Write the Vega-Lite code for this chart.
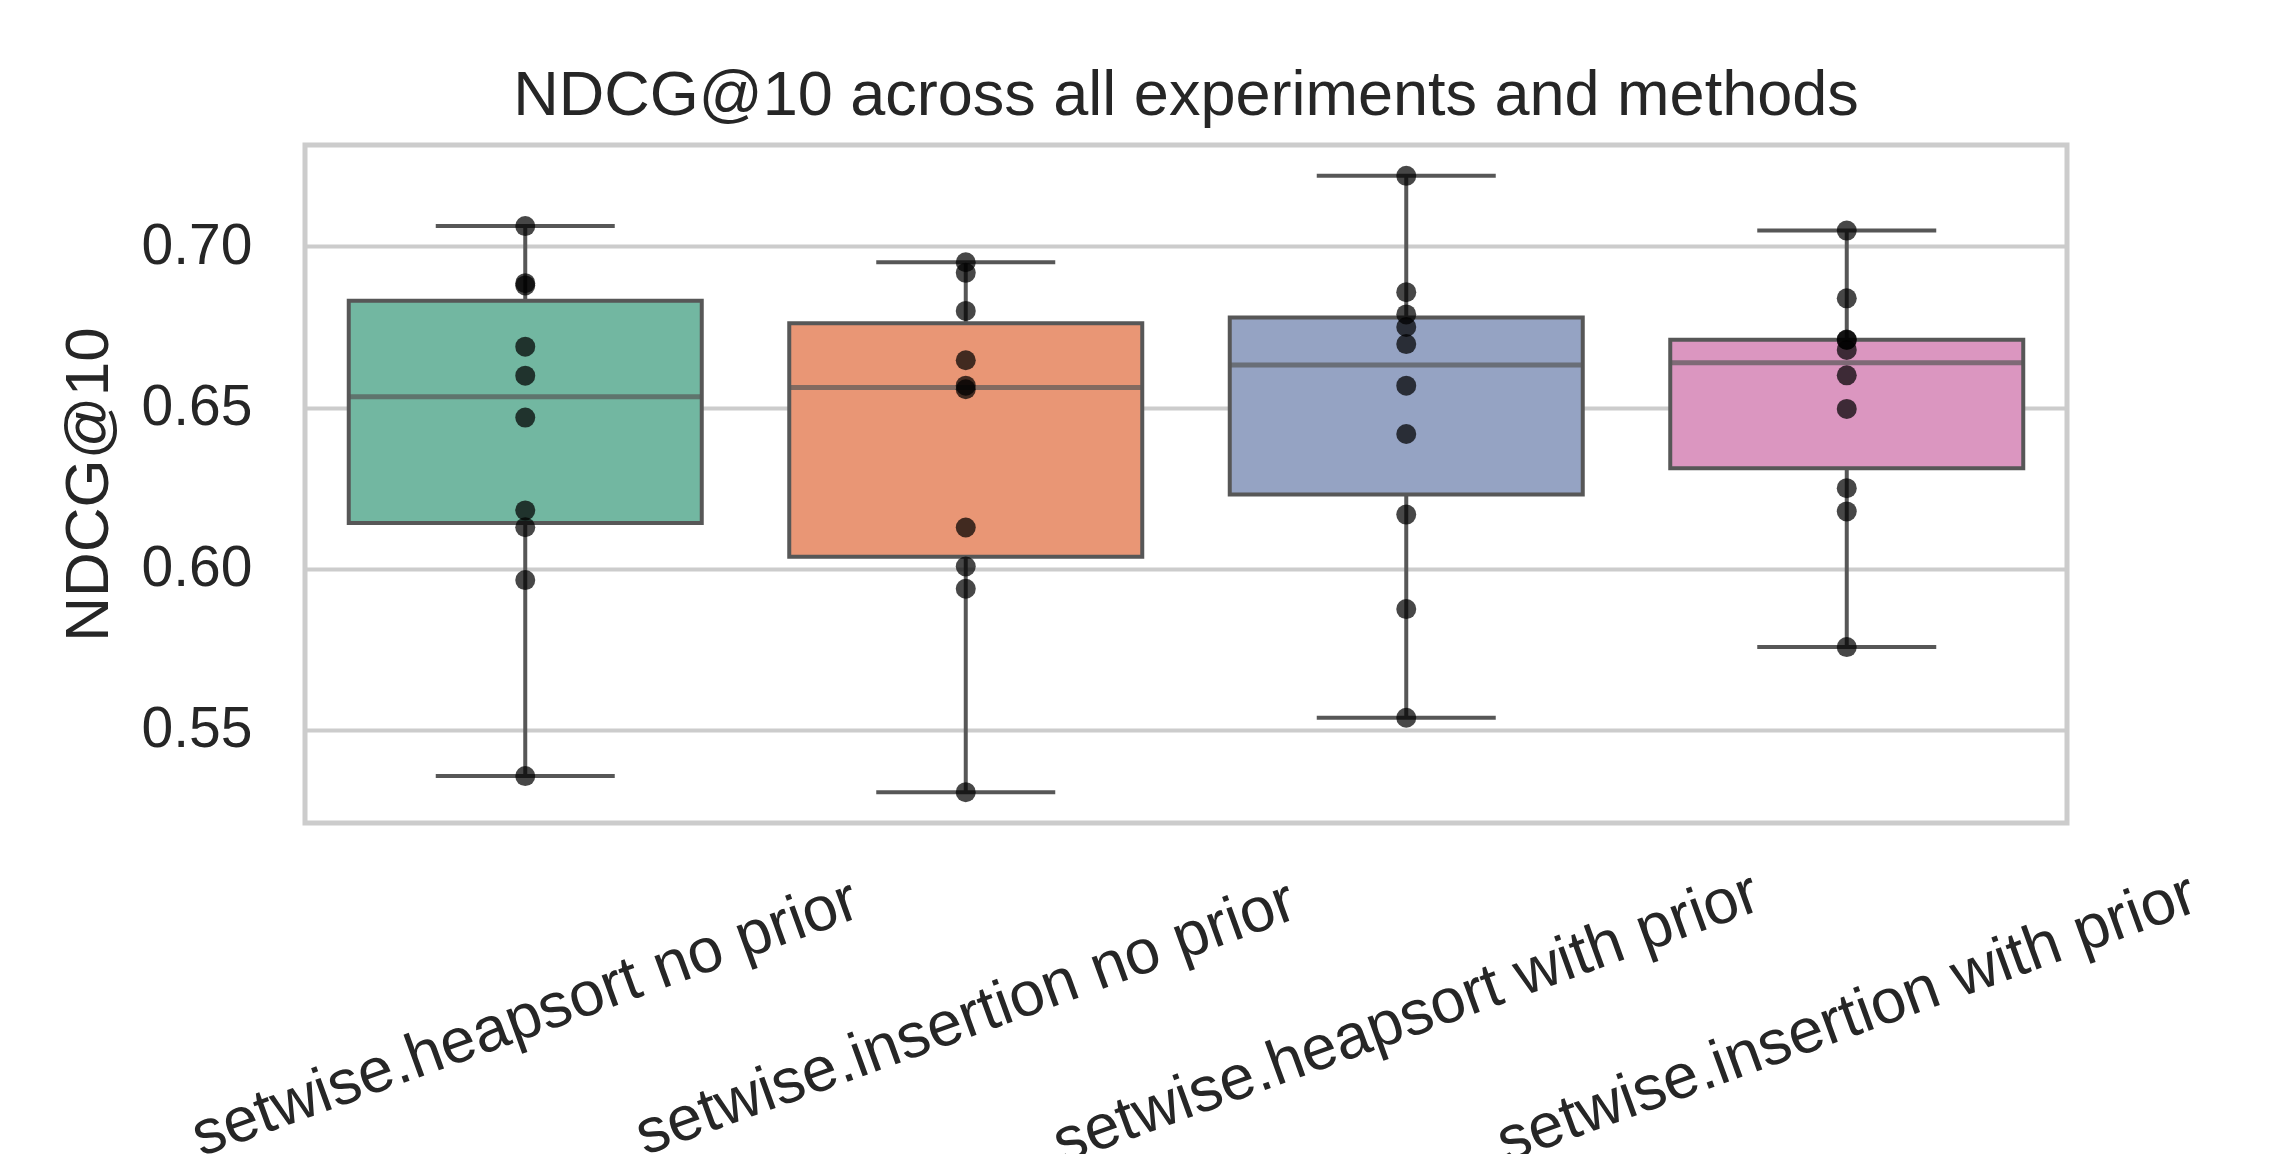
{
  "$schema": "https://vega.github.io/schema/vega-lite/v6.json",
  "width": 1762,
  "height": 678,
  "autosize": {"type": "none"},
  "padding": {"left": 305, "top": 145, "right": 205, "bottom": 331},
  "background": "white",
  "title": {"text": "NDCG@10 across all experiments and methods", "fontSize": 63, "font": "Liberation Sans", "fontWeight": "normal", "color": "#262626", "baseline": "alphabetic", "offset": -33, "anchor": "middle"},
  "data": {"values": [
    {"method": "setwise.heapsort no prior", "ndcg": 0.7063},
    {"method": "setwise.heapsort no prior", "ndcg": 0.6886},
    {"method": "setwise.heapsort no prior", "ndcg": 0.6879},
    {"method": "setwise.heapsort no prior", "ndcg": 0.6689},
    {"method": "setwise.heapsort no prior", "ndcg": 0.6599},
    {"method": "setwise.heapsort no prior", "ndcg": 0.6469},
    {"method": "setwise.heapsort no prior", "ndcg": 0.6181},
    {"method": "setwise.heapsort no prior", "ndcg": 0.6129},
    {"method": "setwise.heapsort no prior", "ndcg": 0.5965},
    {"method": "setwise.heapsort no prior", "ndcg": 0.5357},
    {"method": "setwise.insertion no prior", "ndcg": 0.6951},
    {"method": "setwise.insertion no prior", "ndcg": 0.6918},
    {"method": "setwise.insertion no prior", "ndcg": 0.6800},
    {"method": "setwise.insertion no prior", "ndcg": 0.6647},
    {"method": "setwise.insertion no prior", "ndcg": 0.6568},
    {"method": "setwise.insertion no prior", "ndcg": 0.6557},
    {"method": "setwise.insertion no prior", "ndcg": 0.6128},
    {"method": "setwise.insertion no prior", "ndcg": 0.6007},
    {"method": "setwise.insertion no prior", "ndcg": 0.5938},
    {"method": "setwise.insertion no prior", "ndcg": 0.5307},
    {"method": "setwise.heapsort with prior", "ndcg": 0.7219},
    {"method": "setwise.heapsort with prior", "ndcg": 0.6858},
    {"method": "setwise.heapsort with prior", "ndcg": 0.6789},
    {"method": "setwise.heapsort with prior", "ndcg": 0.6750},
    {"method": "setwise.heapsort with prior", "ndcg": 0.6697},
    {"method": "setwise.heapsort with prior", "ndcg": 0.6568},
    {"method": "setwise.heapsort with prior", "ndcg": 0.6418},
    {"method": "setwise.heapsort with prior", "ndcg": 0.6168},
    {"method": "setwise.heapsort with prior", "ndcg": 0.5875},
    {"method": "setwise.heapsort with prior", "ndcg": 0.5538},
    {"method": "setwise.insertion with prior", "ndcg": 0.7049},
    {"method": "setwise.insertion with prior", "ndcg": 0.6839},
    {"method": "setwise.insertion with prior", "ndcg": 0.6711},
    {"method": "setwise.insertion with prior", "ndcg": 0.6710},
    {"method": "setwise.insertion with prior", "ndcg": 0.6679},
    {"method": "setwise.insertion with prior", "ndcg": 0.6600},
    {"method": "setwise.insertion with prior", "ndcg": 0.6496},
    {"method": "setwise.insertion with prior", "ndcg": 0.6250},
    {"method": "setwise.insertion with prior", "ndcg": 0.6178},
    {"method": "setwise.insertion with prior", "ndcg": 0.5757}
  ]},
  "encoding": {
    "x": {
      "field": "method", "type": "nominal",
      "sort": ["setwise.heapsort no prior", "setwise.insertion no prior", "setwise.heapsort with prior", "setwise.insertion with prior"],
      "scale": {"paddingInner": 0.2, "paddingOuter": 0.1},
      "axis": {"title": null, "labelAngle": -20, "labelAlign": "center", "labelBaseline": "middle", "labelFontSize": 63, "labelFont": "Liberation Sans", "labelColor": "#262626", "labelPadding": 195, "ticks": false, "tickSize": 0, "domain": false, "grid": false, "labelLimit": 0, "labelOverlap": false}
    },
    "y": {
      "field": "ndcg", "type": "quantitative",
      "scale": {"domain": [0.52114, 0.73146], "nice": false, "zero": false},
      "axis": {"values": [0.55, 0.6, 0.65, 0.7], "format": ".2f", "labelFontSize": 57, "labelFont": "Liberation Sans", "labelColor": "#262626", "labelPadding": 53, "ticks": false, "tickSize": 0, "domain": false, "grid": true, "gridColor": "#cccccc", "gridWidth": 4, "title": "NDCG@10", "titleFontSize": 62, "titleFont": "Liberation Sans", "titleFontWeight": "normal", "titleColor": "#262626", "titlePadding": 21}
    }
  },
  "layer": [
    {
      "mark": {"type": "boxplot", "extent": "min-max", "size": 353,
        "box": {"stroke": "#575757", "strokeWidth": 4},
        "median": {"color": "#575757", "thickness": 5},
        "rule": {"color": "#575757", "strokeWidth": 4},
        "ticks": {"color": "#575757", "size": 179, "thickness": 4}},
      "encoding": {
        "color": {"field": "method", "type": "nominal",
          "sort": ["setwise.heapsort no prior", "setwise.insertion no prior", "setwise.heapsort with prior", "setwise.insertion with prior"],
          "scale": {"range": ["#72b7a1", "#e99675", "#95a3c3", "#db96c0"]}, "legend": null}
      }
    },
    {
      "mark": {"type": "circle", "size": 400, "color": "black", "opacity": 0.72},
      "encoding": {}
    }
  ],
  "config": {"view": {"stroke": "#cccccc", "strokeWidth": 5}}
}
